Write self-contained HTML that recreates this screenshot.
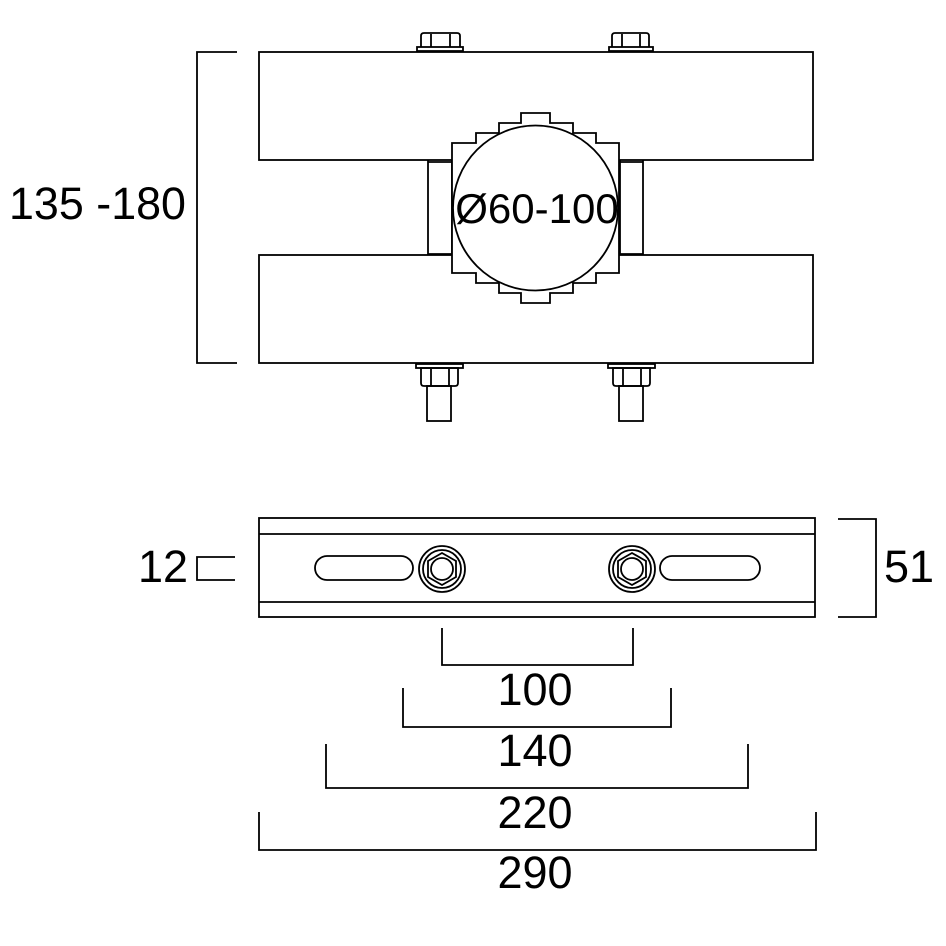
<!DOCTYPE html>
<html><head><meta charset="utf-8"><style>
html,body{margin:0;padding:0;background:#fff}
svg{display:block}
text{font-family:"Liberation Sans",Arial,sans-serif;fill:#000}
</style></head><body>
<svg width="946" height="946" viewBox="0 0 946 946" xmlns="http://www.w3.org/2000/svg">
<g fill="none" stroke="#000" stroke-width="1.8">
<rect x="259" y="52" width="554" height="108" fill="#fff"/>
<rect x="259" y="255" width="554" height="108" fill="#fff"/>
<line x1="428" y1="160" x2="428" y2="255"/>
<line x1="452" y1="160" x2="452" y2="255"/>
<line x1="620" y1="160" x2="620" y2="255"/>
<line x1="643" y1="160" x2="643" y2="255"/>
<line x1="428" y1="162" x2="452" y2="162"/><line x1="428" y1="254" x2="452" y2="254"/>
<line x1="620" y1="162" x2="643" y2="162"/><line x1="620" y1="254" x2="643" y2="254"/>
<polygon fill="#fff" points="521,113 550,113 550,123 573,123 573,133 596,133 596,143 619,143 619,273 596,273 596,283 573,283 573,293 550,293 550,303 521,303 521,293 499,293 499,283 476,283 476,273 452,273 452,143 476,143 476,133 499,133 499,123 521,123"/>
<circle cx="535.5" cy="208" r="82.5"/>
<rect x="417" y="47" width="46" height="4"/>
<path d="M421,47 V36 Q421,33 424,33 H457 Q460,33 460,36 V47"/>
<line x1="431" y1="34" x2="431" y2="47"/><line x1="450" y1="34" x2="450" y2="47"/>
<rect x="609" y="47" width="44" height="4"/>
<path d="M612,47 V36 Q612,33 615,33 H646 Q649,33 649,36 V47"/>
<line x1="622" y1="34" x2="622" y2="47"/><line x1="640" y1="34" x2="640" y2="47"/>
<rect x="416" y="364" width="47" height="4"/>
<path d="M421,368 V383 Q421,386 424,386 H455 Q458,386 458,383 V368 Z"/>
<line x1="431" y1="369" x2="431" y2="386"/><line x1="449" y1="369" x2="449" y2="386"/>
<rect x="427" y="386" width="24" height="35"/>
<rect x="608" y="364" width="47" height="4"/>
<path d="M613,368 V383 Q613,386 616,386 H647 Q650,386 650,383 V368 Z"/>
<line x1="623" y1="369" x2="623" y2="386"/><line x1="641" y1="369" x2="641" y2="386"/>
<rect x="619" y="386" width="24" height="35"/>
<polyline points="237,52 197,52 197,363 237,363"/>
<rect x="259" y="518" width="556" height="99"/>
<line x1="259" y1="534" x2="815" y2="534"/>
<line x1="259" y1="602" x2="815" y2="602"/>
<rect x="315" y="556" width="98" height="24" rx="12"/>
<rect x="660" y="556" width="100" height="24" rx="12"/>
<circle cx="442" cy="569" r="23"/><circle cx="442" cy="569" r="19"/>
<polygon points="442,553 456,561 456,577 442,585 428,577 428,561"/>
<circle cx="442" cy="569" r="11"/>
<circle cx="632" cy="569" r="23"/><circle cx="632" cy="569" r="19"/>
<polygon points="632,553 646,561 646,577 632,585 618,577 618,561"/>
<circle cx="632" cy="569" r="11"/>
<polyline points="235,557 197,557 197,580 235,580"/>
<polyline points="838,519 876,519 876,617 838,617"/>
<polyline points="442,628 442,665 633,665 633,628"/>
<polyline points="403,688 403,727 671,727 671,688"/>
<polyline points="326,744 326,788 748,788 748,744"/>
<polyline points="259,812 259,850 816,850 816,812"/>
</g>
<g font-size="45">
<text x="9" y="219" textLength="177" lengthAdjust="spacingAndGlyphs">135 -180</text>
<text x="537" y="223" text-anchor="middle" font-size="42">Ø60-100</text>
<text x="138" y="582">12</text>
<text x="884" y="582">51</text>
<text x="535" y="705" text-anchor="middle">100</text>
<text x="535" y="766" text-anchor="middle">140</text>
<text x="535" y="828" text-anchor="middle">220</text>
<text x="535" y="888" text-anchor="middle">290</text>
</g>
</svg>
</body></html>
